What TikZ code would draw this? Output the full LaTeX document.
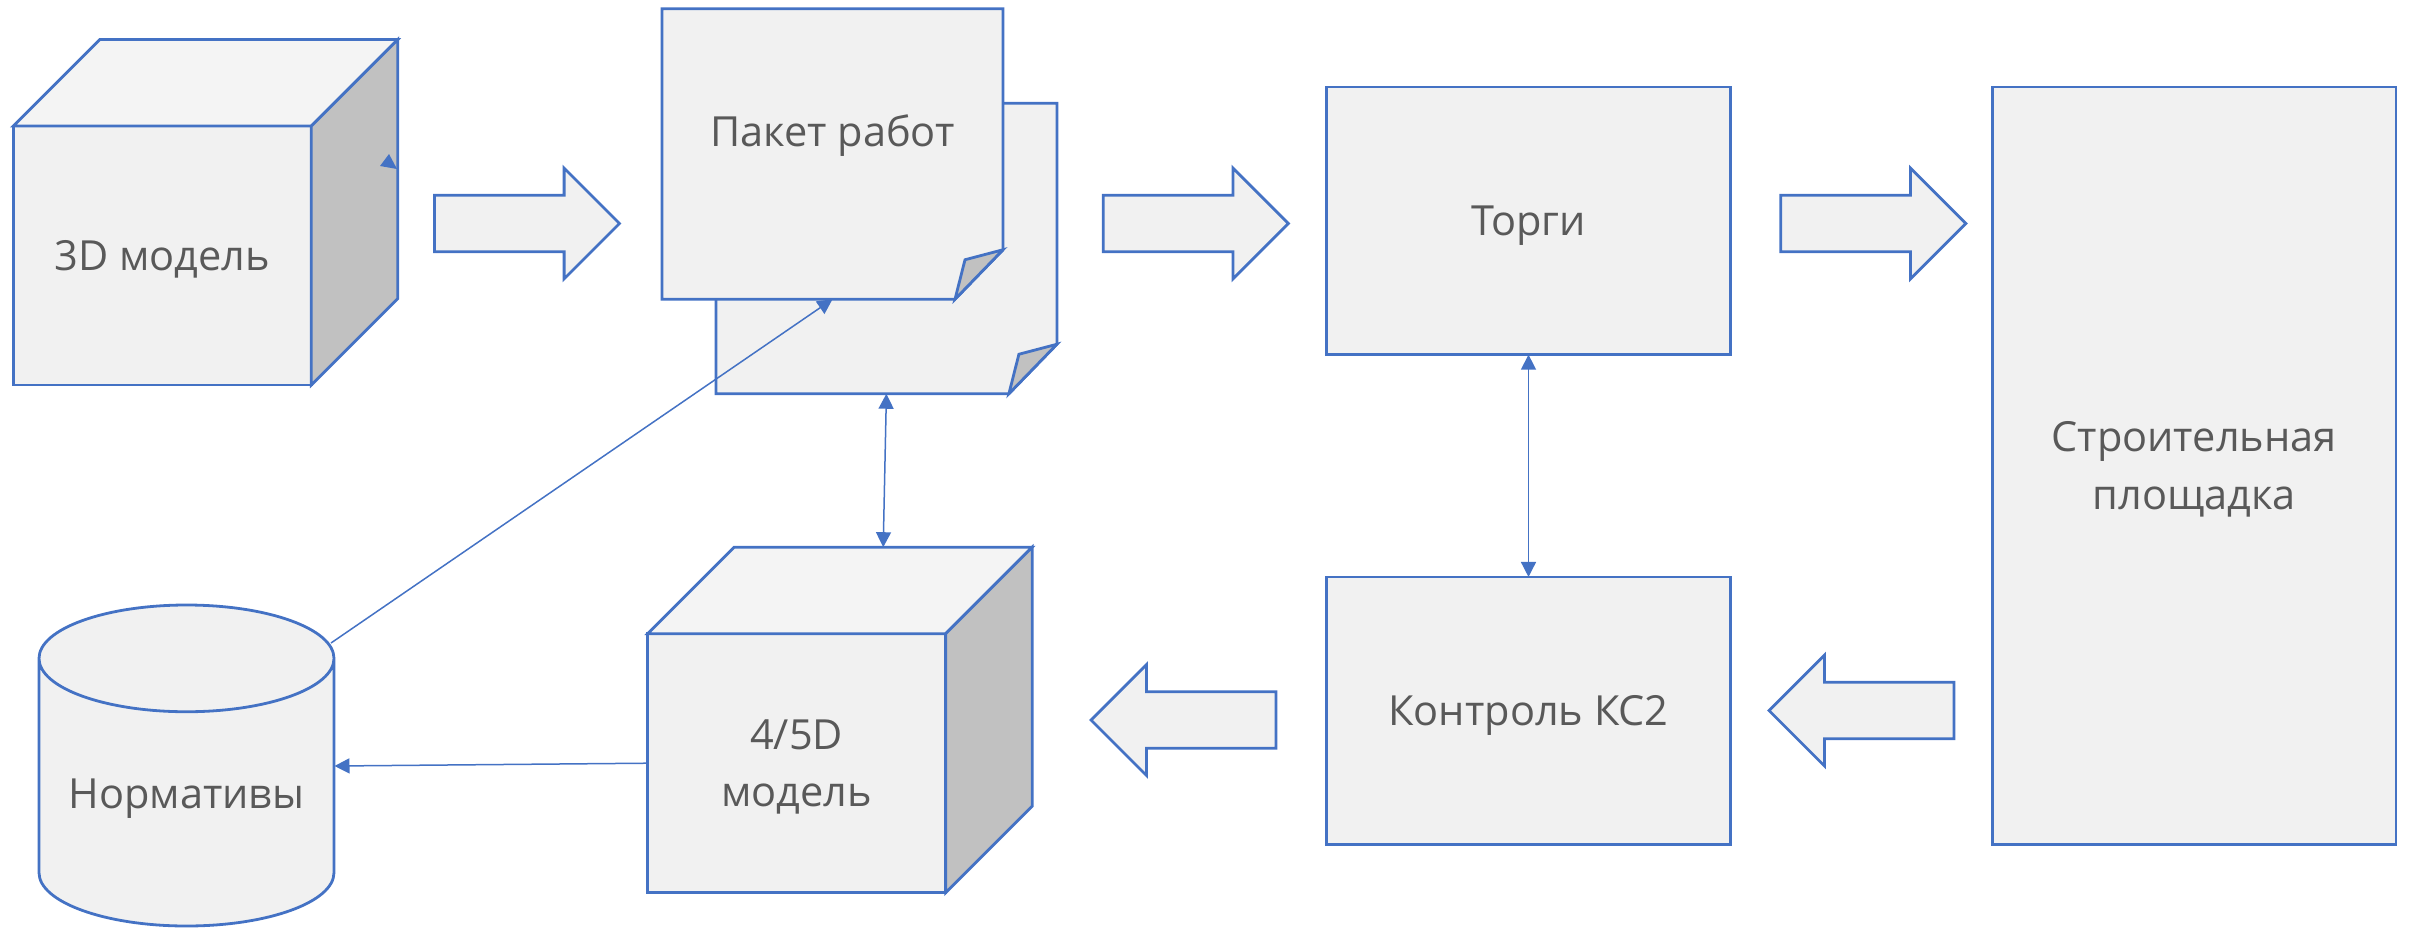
\documentclass[tikz,border=0pt]{standalone}
\usepackage{fontspec}
\setmainfont{Open Sans}
\usetikzlibrary{shapes.geometric,shapes.arrows,arrows.meta,calc}

\definecolor{linecol}{HTML}{4472C4}
\definecolor{fillcol}{HTML}{F1F1F1}
\definecolor{topcol}{HTML}{F4F4F4}
\definecolor{sidecol}{HTML}{C1C1C1}
\definecolor{textcol}{HTML}{595959}

\tikzset{
    shade box/.style={draw=linecol, line width=2.8pt, fill=fillcol, line join=miter, outer sep=0pt,
        text=textcol, align=center, text depth=-6pt, font=\fontsize{41.5}{57.6}\selectfont},
    box/.style={shade box, rectangle, minimum width=403.7pt, minimum height=#1},
    block/.style={shade box, single arrow, single arrow head extend=27.2pt, single arrow head indent=0pt,
        inner xsep=0pt, inner ysep=26.8pt, minimum height=185pt, minimum width=109pt},
    link/.style={draw=linecol, line width=1.5pt, >={Triangle[length=15pt,width=15pt]}},
}

% front face is the node, the other two faces hang off it
\newcommand{\cubebox}[3]{
    \node[shade box, rectangle, minimum width=298pt, minimum height=259pt] (#1) at (#2) {#3};
    \draw[shade box, fill=topcol] (#1.north west) -- ++(86.5,-86.5) -- ++(298,0) -- ++(-86.5,86.5) -- cycle;
    \draw[shade box, fill=sidecol] (#1.north east) -- ++(86.5,-86.5) -- ++(0,259) -- ++(-86.5,86.5) -- cycle;
    \coordinate (#1 top) at ($(#1.north)+(86.5,-86.5)$);
}
\newcommand{\sheetbox}[2]{
    \node[minimum width=341pt, minimum height=290.5pt, outer sep=0pt] (#1) at (#2) {};
    \draw[shade box] (#1.north west) -- (#1.north east) -- ($(#1.south east)+(0,-49.5)$) -- ($(#1.south east)+(-48,0)$) -- (#1.south west) -- cycle;
    \draw[shade box, fill=sidecol] ($(#1.south east)+(-48,0)$) -- ++(10,-39.5) -- ($(#1.south east)+(0,-49.5)$) -- cycle;
}

\begin{document}
\begin{tikzpicture}[x=1pt, y=-1pt]
    \useasboundingbox (0,0) rectangle (2410,927);

    \cubebox{model3d}{162.3,255.5}{3D модель}
    \fill[linecol] (389,154) -- (380,166) -- (397,169) -- cycle;

    \sheetbox{sheetback}{886.4,248.5}
    \sheetbox{sheetfront}{832.5,154}
    \node[text=textcol, text depth=0pt, font=\fontsize{41.5}{57.6}\selectfont, yshift=23pt] (sheetlabel) at (sheetfront.center) {Пакет работ};

    \node[box=267.7pt] (tender) at (1528.5,220.8) {Торги};
    \node[box=267.3pt] (control) at (1528.5,710.6) {Контроль КС2};
    \node[box=757.3pt] (site) at (2194.2,465.6) {Строительная\\площадка};

    \cubebox{model45d}{796.7,763.2}{4/5D\\модель}

    \node[shade box, cylinder, shape border rotate=90, shape aspect=0.44, text depth={}, minimum width=295pt, minimum height=321pt, anchor=north] (norms) at (186.5,605) {Нормативы};
    \coordinate (norms in) at ($(norms.north)+(148,161)$);
    \coordinate (norms out) at ($(norms.north)+(144.5,38)$);

    \node[block, anchor=tail] (arrowa) at (434.5,223.5) {};
    \node[block, anchor=tail] (arrowb) at (1103.3,223.5) {};
    \node[block, anchor=tail] (arrowc) at (1780.8,223.5) {};
    \node[block, anchor=tail, shape border rotate=180] (arrowd) at (1954,710.5) {};
    \node[block, anchor=tail, shape border rotate=180] (arrowe) at (1276,720) {};

    \draw[link, <->] (sheetback.south) -- (model45d top);
    \draw[link, <->] (tender.south) -- (control.north);
    \draw[link, ->] (model45d.west) -- (norms in);
    \draw[link, ->] (norms out) -- (sheetfront.south);
\end{tikzpicture}
\end{document}
